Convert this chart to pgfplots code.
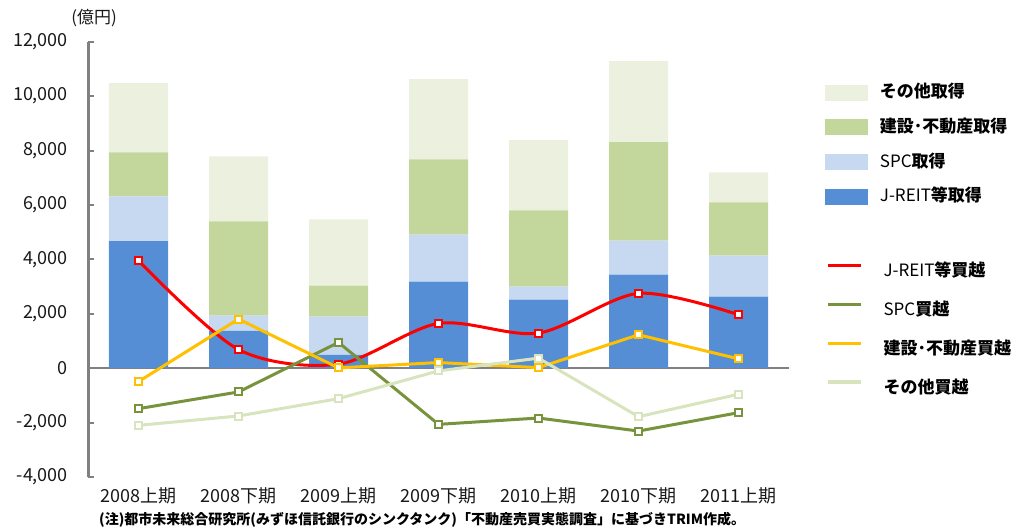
\documentclass[border=0pt]{standalone}
\usepackage{fontspec}
\setmainfont{Noto Sans CJK JP}
\usepackage{pgfplots}
\pgfplotsset{compat=1.18}
\usepackage{pgfplotstable}

\definecolor{cJ}{HTML}{558ED5}
\definecolor{cS}{HTML}{C6D9F1}
\definecolor{cC}{HTML}{C3D69B}
\definecolor{cO}{HTML}{EBF1DE}
\definecolor{lJ}{HTML}{FF0000}
\definecolor{lS}{HTML}{77933C}
\definecolor{lC}{HTML}{FFC000}
\definecolor{lO}{HTML}{D7E4BD}
\definecolor{axgray}{HTML}{808080}

\pgfplotstableread{
x jreit spc con oth
0 4666 1648 1622 2544
1 1375 553 3464 2396
2 491 1400 1143 2432
3 3181 1732 2765 2948
4 2518 479 2801 2580
5 3439 1253 3613 2985
6 2628 1512 1953 1106
}\bardata

\pgfplotstableread{
x jreit spc con oth
0 3950 -1488 -493 -2101
1 686 -874 1805 -1758
2 147 945 10 -1120
3 1645 -2065 207 -100
4 1290 -1832 20 369
5 2750 -2311 1227 -1783
6 1965 -1636 343 -958
}\linedata

\begin{document}
\begin{tikzpicture}
\useasboundingbox (0,0) rectangle (1020pt,528pt);
\begin{axis}[
  at={(88.5pt,51pt)}, anchor=south west,
  scale only axis, width=700pt, height=435.3pt,
  xmin=-0.5, xmax=6.5, ymin=-4000, ymax=12000,
  ybar stacked, bar width=59pt,
  axis lines*=left,
  x axis line style={draw=none},
  y axis line style={axgray, line width=3pt},
  ytick={-4000,-2000,0,2000,4000,6000,8000,10000,12000},
  scaled y ticks=false,
  tick align=inside, major tick length=6pt,
  ytick style={axgray, line width=2pt},
  xtick={0,1,2,3,4,5,6},
  xticklabels={2008上期,2008下期,2009上期,2009下期,2010上期,2010下期,2011上期},
  xtick style={draw=none},
  ticklabel style={font=\fontsize{18}{21}\selectfont, text=black!90},
  xticklabel style={yshift=-7pt},
  yticklabel style={xshift=-17pt},
  /pgf/number format/.cd, 1000 sep={,}, assume math mode=true,
  /pgfplots/.cd,
  extra y ticks={0}, extra y tick labels={},
  extra y tick style={grid=major, major grid style={axgray, line width=2.5pt}, tick style={draw=none}},
  reverse legend,
  legend style={at={(1.0521,0.9012)}, anchor=north west, draw=none, fill=none,
    inner sep=0pt, outer sep=0pt, column sep=12pt, row sep=18.7pt,
    nodes={inner sep=0pt, text height=13pt, text depth=3pt, font=\fontsize{17}{20}\selectfont}},
  legend cell align=left,
]
\addplot[fill=cJ, draw=none, legend image code/.code={\fill[cJ] (0pt,-8pt) rectangle (43pt,8pt);}] table[x=x,y=jreit] {\bardata};
\addlegendentry{J-REIT\textbf{等取得}}
\addplot[fill=cS, draw=none, legend image code/.code={\fill[cS] (0pt,-8pt) rectangle (43pt,8pt);}] table[x=x,y=spc] {\bardata};
\addlegendentry{SPC\textbf{取得}}
\addplot[fill=cC, draw=none, legend image code/.code={\fill[cC] (0pt,-8pt) rectangle (43pt,8pt);}] table[x=x,y=con] {\bardata};
\addlegendentry{\textbf{建設･不動産取得}}
\addplot[fill=cO, draw=none, legend image code/.code={\fill[cO] (0pt,-8pt) rectangle (43pt,8pt);}] table[x=x,y=oth] {\bardata};
\addlegendentry{\textbf{その他取得}}
\end{axis}

\begin{axis}[
  at={(88.5pt,51pt)}, anchor=south west,
  scale only axis, width=700pt, height=435.3pt,
  xmin=-0.5, xmax=6.5, ymin=-4000, ymax=12000,
  hide axis, clip=false,
  legend style={at={(1.0536,0.49)}, anchor=north west, draw=none, fill=none,
    inner sep=0pt, outer sep=0pt, column sep=21pt, row sep=22.8pt,
    nodes={inner sep=0pt, text height=13pt, text depth=3pt, font=\fontsize{17}{20}\selectfont}},
  legend cell align=left,
  every axis plot/.append style={line width=3pt, mark=square*, mark size=3.5pt},
]
\addplot[lJ, smooth, tension=0.5, mark options={fill=white, draw=lJ, line width=2pt},
  legend image code/.code={\draw[lJ, line width=3.5pt] (0pt,6pt) -- (33pt,6pt);}] table[x=x,y=jreit] {\linedata};
\addlegendentry{J-REIT\textbf{等買越}}
\addplot[lS, mark options={fill=white, draw=lS, line width=2pt},
  legend image code/.code={\draw[lS, line width=3.5pt] (0pt,6pt) -- (33pt,6pt);}] table[x=x,y=spc] {\linedata};
\addlegendentry{SPC\textbf{買越}}
\addplot[lC, mark options={fill=white, draw=lC, line width=2pt},
  legend image code/.code={\draw[lC, line width=3.5pt] (0pt,6pt) -- (33pt,6pt);}] table[x=x,y=con] {\linedata};
\addlegendentry{\textbf{建設･不動産買越}}
\addplot[lO, mark options={fill=white, draw=lO, line width=2pt},
  legend image code/.code={\draw[lO, line width=3.5pt] (0pt,6pt) -- (33pt,6pt);}] table[x=x,y=oth] {\linedata};
\addlegendentry{\textbf{その他買越}}
\end{axis}

\node[font=\fontsize{17}{20}\selectfont, text=black!90] at (94pt,510pt) {(億円)};
\node[anchor=west, inner sep=0pt, font=\bfseries\fontsize{14}{16}\selectfont] at (99pt,8pt) {(注)都市未来総合研究所(みずほ信託銀行のシンクタンク)「不動産売買実態調査」に基づきTRIM作成。};
\end{tikzpicture}
\end{document}
